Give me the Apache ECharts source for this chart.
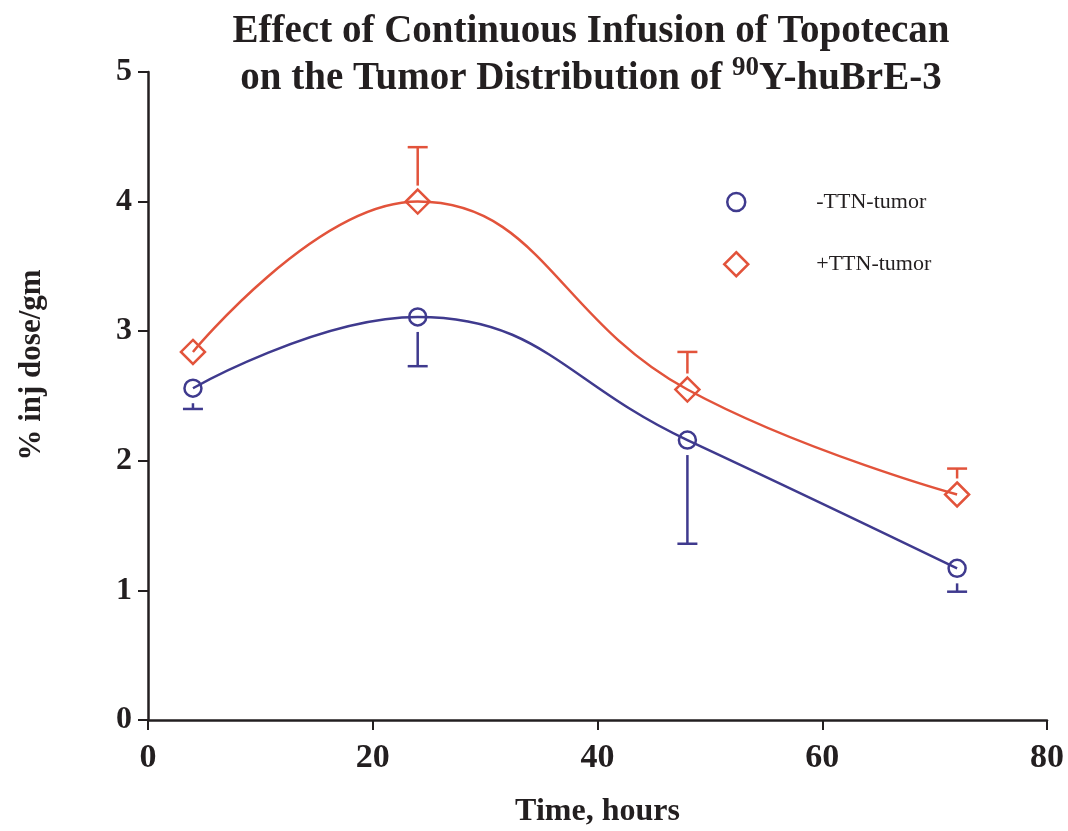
<!DOCTYPE html>
<html>
<head>
<meta charset="utf-8">
<script src="https://cdn.jsdelivr.net/npm/echarts@6/dist/echarts.min.js"></script>
<style>html,body{margin:0;padding:0;background:#fff}#c{width:1068px;height:831px}</style>
</head>
<body>
<div id="c"></div>
<script>
const hours = [4, 24, 48, 72];
const minusTTN = [2.56, 3.11, 2.16, 1.17];
const minusTTNErrEnd = [2.40, 2.73, 1.36, 0.99];
const plusTTN = [2.84, 4.00, 2.55, 1.74];
const plusTTNErrEnd = [2.84, 4.42, 2.84, 1.94];
const seriesNames = ['-TTN-tumor', '+TTN-tumor'];
const xTicks = [0, 20, 40, 60, 80];
const yTicks = [0, 1, 2, 3, 4, 5];

const BLUE = '#3f3a8e';
const ORANGE = '#e2533b';
const AXIS = '#231f20';
const FONT = '"Liberation Serif", "Times New Roman", serif';

function pairs(xs, ys) { return xs.map((x, i) => [x, ys[i]]); }
function triples(xs, ys, es) { return xs.map((x, i) => [x, ys[i], es[i]]); }

function errRender(color, gap) {
  return function (params, api) {
    const x = api.value(0), y = api.value(1), e = api.value(2);
    const p = api.coord([x, y]);
    const q = api.coord([x, e]);
    const dir = q[1] > p[1] ? 1 : -1;
    const start = p[1] + dir * gap;
    if ((q[1] - start) * dir <= 0) return null;
    const st = { stroke: color, lineWidth: 2.5 };
    return {
      type: 'group',
      children: [
        { type: 'line', shape: { x1: p[0], y1: start, x2: q[0], y2: q[1] }, style: st },
        { type: 'line', shape: { x1: q[0] - 10, y1: q[1], x2: q[0] + 10, y2: q[1] }, style: st }
      ]
    };
  };
}

const legendText = { fontFamily: FONT, fontSize: 22, color: AXIS };

const chart = echarts.init(document.getElementById('c'), null, { renderer: 'canvas' });
chart.setOption({
  backgroundColor: '#fff',
  animation: false,
  title: {
    left: 586, textAlign: 'center', top: 3,
    text: '{a|Effect of Continuous Infusion of Topotecan}\n{a|on the Tumor Distribution of }{s|90}{a|Y-huBrE-3}',
    textStyle: {
      rich: {
        a: { fontFamily: FONT, fontWeight: 'bold', fontSize: 39, color: AXIS, lineHeight: 47 },
        s: { fontFamily: FONT, fontWeight: 'bold', fontSize: 27, color: AXIS, lineHeight: 47, verticalAlign: 'top', padding: [0, 0, 14, 0] }
      }
    }
  },
  legend: [
    {
      left: 721, top: 186, itemWidth: 18, itemHeight: 18,
      textStyle: Object.assign({}, legendText, { padding: [0, 0, 0, 66] }),
      data: [{ name: seriesNames[0], icon: 'circle', itemStyle: { color: 'rgba(0,0,0,0)', borderColor: BLUE, borderWidth: 2.5 } }]
    },
    {
      left: 718, top: 246, itemWidth: 24, itemHeight: 24,
      textStyle: Object.assign({}, legendText, { padding: [0, 0, 0, 63] }),
      data: [{ name: seriesNames[1], icon: 'diamond', itemStyle: { color: 'rgba(0,0,0,0)', borderColor: ORANGE, borderWidth: 2.5 } }]
    }
  ],
  grid: { left: 148, right: 21, top: 72, bottom: 111, containLabel: false, outerBoundsMode: 'none' },
  xAxis: {
    type: 'value', min: 0, max: 80, interval: 20,
    name: 'Time, hours', nameLocation: 'middle', nameGap: 76,
    nameTextStyle: { fontFamily: FONT, fontWeight: 'bold', fontSize: 32, color: AXIS },
    axisLine: { show: true, lineStyle: { color: AXIS, width: 2.5 } },
    axisTick: { show: true, length: 10, lineStyle: { color: AXIS, width: 2 } },
    axisLabel: { fontFamily: FONT, fontWeight: 'bold', fontSize: 34, color: AXIS, margin: 21 },
    splitLine: { show: false }
  },
  yAxis: {
    type: 'value', min: 0, max: 5, interval: 1,
    name: '% inj dose/gm', nameLocation: 'middle', nameGap: 101, nameRotate: 90,
    nameTextStyle: { fontFamily: FONT, fontWeight: 'bold', fontSize: 31, color: AXIS, padding: [0, 0, 0, 62] },
    axisLine: { show: true, lineStyle: { color: AXIS, width: 2.5 } },
    axisTick: { show: true, length: 10, lineStyle: { color: AXIS, width: 2 } },
    axisLabel: { fontFamily: FONT, fontWeight: 'bold', fontSize: 32, color: AXIS, margin: 16 },
    splitLine: { show: false }
  },
  series: [
    {
      name: seriesNames[0], type: 'line', data: pairs(hours, minusTTN),
      smooth: 0.45, symbol: 'circle', symbolSize: 17,
      lineStyle: { color: BLUE, width: 2.5 },
      itemStyle: { color: 'rgba(0,0,0,0)', borderColor: BLUE, borderWidth: 2.5 },
      z: 3
    },
    {
      name: seriesNames[1], type: 'line', data: pairs(hours, plusTTN),
      smooth: 0.45, symbol: 'diamond', symbolSize: 24,
      lineStyle: { color: ORANGE, width: 2.5 },
      itemStyle: { color: 'rgba(0,0,0,0)', borderColor: ORANGE, borderWidth: 2.5 },
      z: 3
    },
    {
      type: 'custom', name: 'err-minus', data: triples(hours, minusTTN, minusTTNErrEnd),
      renderItem: errRender(BLUE, 15), encode: { x: 0, y: [1, 2] }, silent: true, z: 2
    },
    {
      type: 'custom', name: 'err-plus', data: triples(hours, plusTTN, plusTTNErrEnd),
      renderItem: errRender(ORANGE, 16), encode: { x: 0, y: [1, 2] }, silent: true, z: 2
    }
  ]
});
</script>
</body>
</html>
